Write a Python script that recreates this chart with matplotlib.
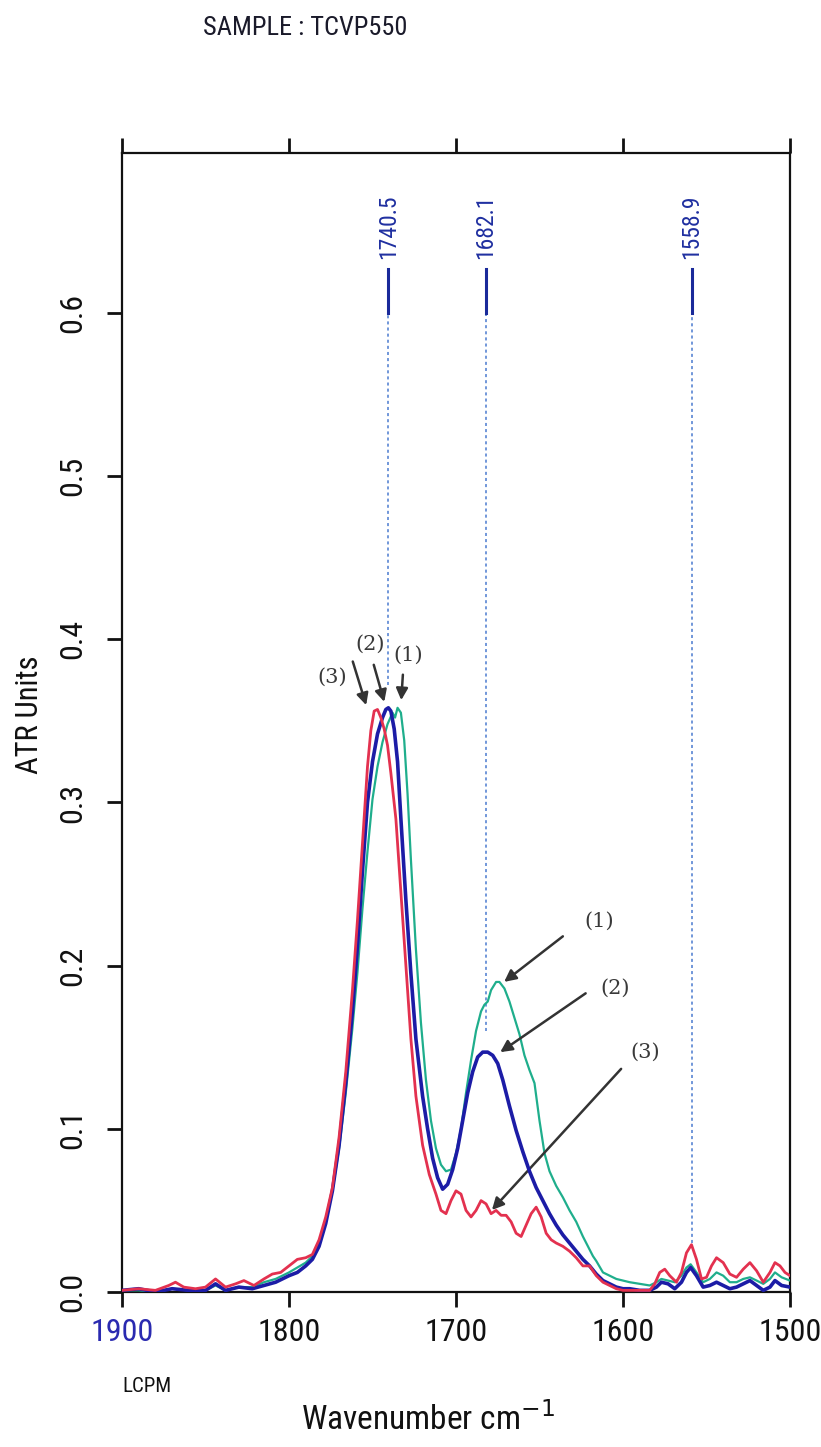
import matplotlib
matplotlib.use("Agg")
import matplotlib.pyplot as plt
from matplotlib import font_manager

# ---------------- data ----------------
x_red = [1900,1890,1880,1872,1868,1863,1856,1850,1844,1838,1832,1827,1821,1815,1810,1805,1800,1795,1790,1786,
         1782,1778,1774,1770,1766,1762,1759,1756,1753,1751,1749,1747,1745,1743,1741,1739,1736,1733,1730,1727,
         1724,1720,1716,1712,1709,1706,1703,1700,1697,1694,1691,1688,1685,1682,1679,1676,1673,1670,1667,1664,
         1661,1658,1655,1652,1649,1646,1643,1640,1636,1632,1628,1624,1620,1616,1612,1608,1604,1600,1596,1592,
         1588,1584,1581,1578,1575,1572,1568,1565,1562,1559,1556,1553,1550,1547,1544,1540,1536,1532,1528,1524,
         1520,1516,1512,1509,1506,1503,1500]
y_red = [0.001,0.002,0.001,0.004,0.006,0.003,0.002,0.003,0.008,0.003,0.005,0.007,0.004,0.008,0.011,0.012,0.016,0.020,0.021,0.023,
         0.032,0.046,0.064,0.095,0.135,0.185,0.228,0.275,0.322,0.344,0.356,0.357,0.352,0.345,0.335,0.318,0.290,0.245,0.200,0.155,
         0.120,0.090,0.072,0.060,0.050,0.048,0.056,0.062,0.060,0.050,0.046,0.050,0.056,0.054,0.048,0.050,0.047,0.047,0.043,0.036,
         0.034,0.041,0.048,0.052,0.046,0.036,0.032,0.030,0.028,0.025,0.021,0.016,0.016,0.010,0.006,0.004,0.002,0.001,0.001,0.001,
         0.001,0.001,0.005,0.012,0.014,0.010,0.006,0.012,0.024,0.029,0.020,0.008,0.009,0.016,0.021,0.018,0.011,0.009,0.014,0.018,
         0.013,0.006,0.012,0.018,0.016,0.012,0.010]

x_blue = [1900,1890,1880,1870,1860,1850,1844,1838,1830,1822,1815,1808,1800,1795,1790,1786,1782,1778,1774,1770,
          1766,1762,1759,1756,1753,1750,1747,1744,1742,1740.5,1739,1737,1735,1733,1730,1727,1724,1720,1717,1714,
          1711,1708,1705,1702,1699,1696,1693,1690,1687,1684,1681,1678,1675,1672,1668,1664,1660,1656,1652,1648,
          1644,1640,1636,1632,1628,1624,1620,1616,1612,1608,1604,1600,1596,1590,1584,1580,1577,1573,1569,1565,
          1562,1559.5,1556,1552,1548,1544,1540,1536,1532,1528,1524,1520,1516,1512,1509,1505,1500]
y_blue = [0.001,0.002,0.000,0.002,0.001,0.001,0.005,0.001,0.003,0.002,0.004,0.006,0.010,0.012,0.016,0.020,0.028,0.042,0.062,0.090,
          0.128,0.172,0.212,0.258,0.300,0.325,0.342,0.352,0.357,0.358,0.356,0.345,0.325,0.290,0.240,0.195,0.155,0.120,0.100,0.082,
          0.070,0.063,0.066,0.075,0.088,0.105,0.122,0.135,0.144,0.147,0.147,0.145,0.140,0.130,0.114,0.099,0.086,0.074,0.064,0.056,
          0.048,0.041,0.035,0.030,0.025,0.020,0.016,0.011,0.007,0.005,0.003,0.002,0.002,0.001,0.001,0.003,0.006,0.005,0.002,0.006,
          0.012,0.015,0.010,0.003,0.004,0.006,0.004,0.002,0.003,0.005,0.007,0.004,0.001,0.003,0.007,0.004,0.003]

x_green = [1900,1890,1880,1870,1860,1850,1844,1838,1830,1822,1815,1808,1800,1795,1790,1786,1782,1778,1774,1770,
           1766,1762,1759,1756,1753,1750,1747,1744,1741,1738,1736.5,1735,1733,1731,1729,1727,1724,1721,1718,1715,
           1712,1709,1706,1703,1700,1697,1694,1691,1688,1685,1683,1681,1679,1676,1674,1671,1668,1665,1662,1659,
           1656,1653,1650,1647,1644,1640,1636,1632,1628,1624,1620,1618,1616,1612,1608,1604,1600,1596,1590,1584,
           1580,1577,1573,1569,1565,1562,1559.5,1556,1552,1548,1544,1540,1536,1532,1528,1524,1520,1516,1512,1509,
           1505,1500]
y_green = [0.001,0.001,0.000,0.002,0.001,0.001,0.004,0.001,0.003,0.003,0.006,0.008,0.012,0.015,0.018,0.022,0.030,0.043,0.062,0.088,
           0.122,0.162,0.196,0.235,0.270,0.302,0.322,0.337,0.348,0.355,0.352,0.358,0.355,0.338,0.305,0.265,0.210,0.165,0.130,0.105,
           0.088,0.078,0.074,0.075,0.085,0.100,0.122,0.142,0.160,0.172,0.176,0.178,0.185,0.190,0.190,0.186,0.178,0.168,0.158,0.145,
           0.136,0.128,0.105,0.085,0.074,0.065,0.058,0.050,0.043,0.034,0.026,0.022,0.019,0.012,0.010,0.008,0.007,0.006,0.005,0.004,
           0.006,0.008,0.007,0.006,0.010,0.015,0.017,0.012,0.006,0.008,0.012,0.010,0.006,0.006,0.008,0.009,0.007,0.005,0.008,0.012,
           0.009,0.007]

peak_positions = [1740.5, 1682.1, 1558.9]
peak_labels = ["1740.5", "1682.1", "1558.9"]
peak_ends = [0.372, 0.160, 0.030]

x_ticks = [1900, 1800, 1700, 1600, 1500]
x_tick_labels = ["1900", "1800", "1700", "1600", "1500"]
y_ticks = [0.0, 0.1, 0.2, 0.3, 0.4, 0.5, 0.6]
y_tick_labels = ["0.0", "0.1", "0.2", "0.3", "0.4", "0.5", "0.6"]

# ---------------- fonts ----------------
def pick_narrow():
    names = {f.name for f in font_manager.fontManager.ttflist}
    for cand in ["Liberation Sans Narrow", "DejaVu Sans Condensed", "Roboto Condensed",
                 "Open Sans Condensed", "Noto Sans Condensed"]:
        if cand in names:
            return [cand, "DejaVu Sans"], "normal"
    return ["DejaVu Sans"], "condensed"

NARROW, STRETCH = pick_narrow()
TXT = dict(family=NARROW, fontstretch=STRETCH)

# ---------------- figure ----------------
W, H = 821, 1447
fig = plt.figure(figsize=(W / 100, H / 100), dpi=100)
L, R, T, B = 122, 790, 153, 1292
ax = fig.add_axes([L / W, 1 - B / H, (R - L) / W, (B - T) / H])

ax.plot(x_green, y_green, color="#1fae8c", lw=1.6, zorder=3)
ax.plot(x_blue, y_blue, color="#1c1ca6", lw=2.6, zorder=4)
ax.plot(x_red, y_red, color="#e3314f", lw=2.0, zorder=5)

ax.set_xlim(1900, 1500)
ax.set_ylim(0, 0.698)

# peak markers
for xp, lab, ye in zip(peak_positions, peak_labels, peak_ends):
    ax.plot([xp, xp], [0.600, 0.627], color="#1a2a9a", lw=2.2, zorder=6)
    ax.plot([xp, xp], [ye, 0.600], color="#4a7ad0", lw=1.1, ls=(0, (2, 2)), zorder=2)
    ax.text(xp, 0.633, lab, rotation=90, ha="center", va="bottom", color="#1f2fa0",
            fontsize=17, **TXT)

# ticks
ax.set_xticks(x_ticks)
ax.set_xticklabels(x_tick_labels, fontsize=23, **TXT)
ax.set_yticks(y_ticks)
ax.set_yticklabels(y_tick_labels, fontsize=23, rotation=90, va="center", **TXT)
ax.tick_params(axis="x", direction="out", length=11, width=2, pad=8, colors="#111111",
               top=True, labeltop=False)
ax.tick_params(axis="y", direction="out", length=11, width=2, pad=14, colors="#111111")
ax.get_xticklabels()[0].set_color("#2a2ab0")
for sp in ax.spines.values():
    sp.set_color("#111111")
    sp.set_linewidth(1.6)

# annotations (hand-drawn arrows)
arrow_kw = dict(arrowstyle="-|>,head_length=0.7,head_width=0.35", color="#333333", lw=1.8)
ann_font = dict(family="DejaVu Serif", fontsize=15, color="#3a3a3a", ha="center", va="center")

# top group
ax.text(1774.3, 0.377, "(3)", **ann_font)
ax.annotate("", xy=(1753.3, 0.358), xytext=(1762.3, 0.388), arrowprops=arrow_kw)
ax.text(1751.5, 0.397, "(2)", **ann_font)
ax.annotate("", xy=(1742.5, 0.360), xytext=(1749.7, 0.386), arrowprops=arrow_kw)
ax.text(1728.7, 0.390, "(1)", **ann_font)
ax.annotate("", xy=(1732.9, 0.361), xytext=(1731.7, 0.380), arrowprops=arrow_kw)

# right group
ax.text(1614.5, 0.227, "(1)", **ann_font)
ax.annotate("", xy=(1672.5, 0.189), xytext=(1634.7, 0.219), arrowprops=arrow_kw)
ax.text(1605, 0.186, "(2)", **ann_font)
ax.annotate("", xy=(1674.9, 0.146), xytext=(1621, 0.184), arrowprops=arrow_kw)
ax.text(1587, 0.147, "(3)", **ann_font)
ax.annotate("", xy=(1679.6, 0.049), xytext=(1600, 0.138), arrowprops=arrow_kw)

# outer texts
fig.text(203 / W, 1 - 28 / H, "SAMPLE : TCVP550", fontsize=19,
         ha="left", va="center", color="#1a1a2a", **TXT)
fig.text(30 / W, 1 - 715 / H, "ATR Units", fontsize=22, rotation=90,
         ha="center", va="center", color="#111111", **TXT)
fig.text(428 / W, 1 - 1420 / H, "Wavenumber cm$^{-1}$", fontsize=24,
         ha="center", va="center", color="#111111", **TXT)
fig.text(147 / W, 1 - 1387 / H, "LCPM", fontsize=15,
         ha="center", va="center", color="#111111", **TXT)

fig.savefig("out.png", dpi=100, facecolor="white")
